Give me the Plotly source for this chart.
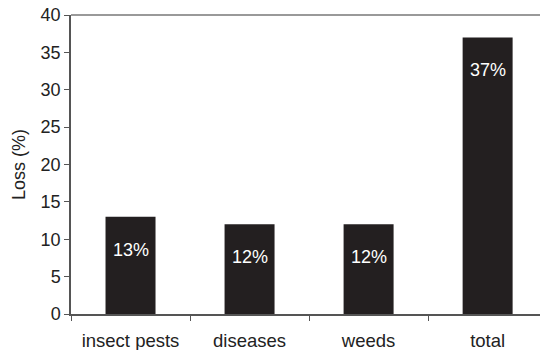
import plotly.graph_objects as go

categories = ["insect pests", "diseases", "weeds", "total"]
loss_pct = [13, 12, 12, 37]
value_labels = ["13%", "12%", "12%", "37%"]

FONT = "Liberation Sans, Arial, sans-serif"
BAR = "#231f20"

fig = go.Figure(
    go.Bar(
        x=categories,
        y=loss_pct,
        width=0.42,
        marker=dict(color=BAR, line=dict(width=0)),
        hoverinfo="skip",
    )
)

# white percentage labels sitting near the top of each bar
for cat, val, lab in zip(categories, loss_pct, value_labels):
    fig.add_annotation(
        x=cat, y=val, text=lab, showarrow=False,
        yanchor="middle", yshift=-33,
        font=dict(family=FONT, size=18, color="white"),
    )

# thin frame line along the top of the plot area
fig.add_shape(
    type="line", xref="paper", yref="paper",
    x0=0, x1=1, y0=1, y1=1,
    line=dict(color="#777", width=1.5),
)

fig.update_layout(
    width=541, height=350,
    margin=dict(l=71, r=1, t=15, b=36),
    paper_bgcolor="white", plot_bgcolor="white",
    showlegend=False,
    font=dict(family=FONT, size=18, color="#222"),
)

fig.update_xaxes(
    type="category",
    range=[-0.5, 3.44],
    automargin=False,
    showline=True, linecolor="#555", linewidth=1.5,
    ticks="outside", tickson="boundaries", ticklen=5, tickcolor="#555",
    ticklabelstandoff=9,
    showgrid=False, zeroline=False,
    tickfont=dict(family=FONT, size=18.5, color="#222"),
)
fig.update_yaxes(
    range=[0, 40], dtick=5,
    automargin=False,
    showline=True, linecolor="#555", linewidth=1.5,
    ticks="outside", ticklen=5, tickcolor="#555",
    showgrid=False, zeroline=False,
    title=dict(text="Loss (%)", standoff=10, font=dict(family=FONT, size=18, color="#222")),
    tickfont=dict(family=FONT, size=18, color="#222"),
)

fig.write_html("out.html")
